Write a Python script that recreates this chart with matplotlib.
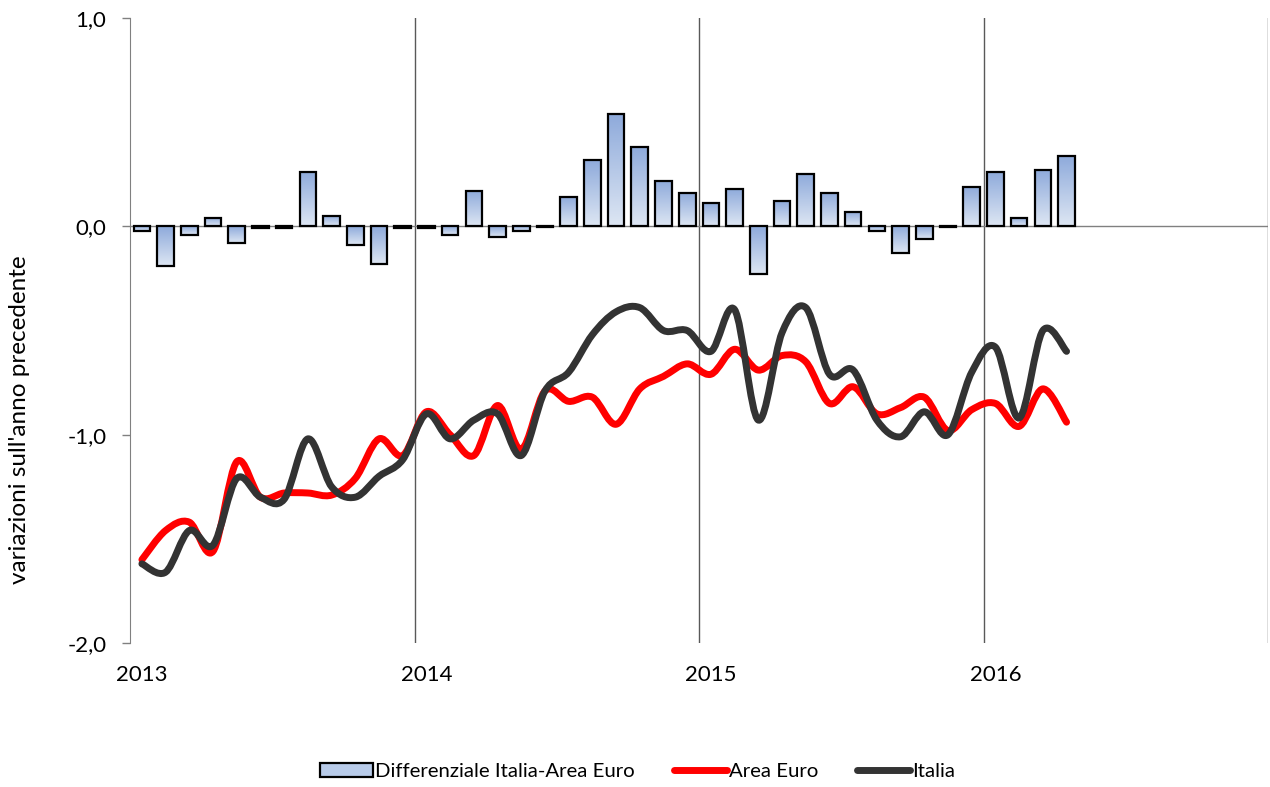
import numpy as np
import matplotlib
matplotlib.use("Agg")
import matplotlib.pyplot as plt
from matplotlib.path import Path
from matplotlib.patches import PathPatch, Patch
from matplotlib.lines import Line2D
from matplotlib.ticker import FuncFormatter

plt.rcParams["font.family"] = ["Lato", "DejaVu Sans"]

# monthly data, Jan 2013 - Apr 2016
years = ["2013", "2014", "2015", "2016"]

differenziale = [
    -0.02, -0.19, -0.04, 0.04, -0.08, -0.01, -0.01, 0.26, 0.05, -0.09, -0.18, -0.01,
    -0.01, -0.04, 0.17, -0.05, -0.02, -0.005, 0.14, 0.32, 0.54, 0.38, 0.22, 0.16,
    0.11, 0.18, -0.23, 0.12, 0.25, 0.16, 0.07, -0.02, -0.13, -0.06, -0.005, 0.19,
    0.26, 0.04, 0.27, 0.34,
]
area_euro = [
    -1.60, -1.46, -1.42, -1.56, -1.13, -1.30, -1.28, -1.28, -1.29, -1.21, -1.02, -1.10,
    -0.89, -1.00, -1.10, -0.86, -1.07, -0.79, -0.84, -0.82, -0.95, -0.78, -0.72, -0.66,
    -0.71, -0.59, -0.69, -0.62, -0.65, -0.85, -0.77, -0.90, -0.87, -0.82, -0.98, -0.88,
    -0.85, -0.96, -0.78, -0.94,
]
italia = [
    -1.62, -1.66, -1.46, -1.53, -1.21, -1.30, -1.31, -1.02, -1.25, -1.30, -1.20, -1.12,
    -0.90, -1.02, -0.93, -0.90, -1.10, -0.79, -0.70, -0.52, -0.41, -0.39, -0.50, -0.50,
    -0.60, -0.40, -0.93, -0.51, -0.39, -0.71, -0.69, -0.93, -1.01, -0.89, -1.00, -0.70,
    -0.58, -0.92, -0.50, -0.60,
]


def smooth_path(xs, ys):
    # excel-like smoothed line as cubic bezier segments
    pts = np.column_stack([xs, ys])
    n = len(pts)
    verts = [pts[0]]
    codes = [Path.MOVETO]
    for i in range(n - 1):
        p0 = pts[max(i - 1, 0)]
        p1 = pts[i]
        p2 = pts[i + 1]
        p3 = pts[min(i + 2, n - 1)]
        verts += [p1 + (p2 - p0) / 6, p2 - (p3 - p1) / 6, p2]
        codes += [Path.CURVE4] * 3
    return Path(verts, codes)


fig = plt.figure(figsize=(12.7, 7.87), dpi=100)
ax = fig.add_axes([0.1024, 0.183, 0.8961, 0.794])

x = np.arange(len(differenziale)) + 0.5
bar_w = 0.7

# gradient bars
grad = np.linspace(0, 1, 64).reshape(-1, 1)
cmap = matplotlib.colors.LinearSegmentedColormap.from_list("g", ["#8eaadb", "#dde6f3"])
for xi, v in zip(x, differenziale):
    lo, hi = min(0, v), max(0, v)
    ax.imshow(grad, extent=(xi - bar_w / 2, xi + bar_w / 2, lo, hi),
              cmap=cmap, aspect="auto", origin="upper", zorder=2)
ax.bar(x, differenziale, width=bar_w, facecolor="none", edgecolor="black",
       linewidth=1.6, zorder=3)

# year gridlines and zero line
for k in range(1, 5):
    ax.plot([12 * k, 12 * k], [-2, 1], color="#595959", lw=1, zorder=1)
ax.axhline(0, color="#808080", lw=1, zorder=1)

ax.add_patch(PathPatch(smooth_path(x, area_euro), fill=False, edgecolor="#ff0000",
                       lw=5, capstyle="round", joinstyle="round", zorder=4))
ax.add_patch(PathPatch(smooth_path(x, italia), fill=False, edgecolor="#333333",
                       lw=5, capstyle="round", joinstyle="round", zorder=5))

ax.set_xlim(0, 48)
ax.set_ylim(-2, 1)
ax.set_yticks([-2, -1, 0, 1])
ax.yaxis.set_major_formatter(FuncFormatter(lambda v, p: f"{v:.1f}".replace(".", ",")))
ax.set_xticks([0.5, 12.5, 24.5, 36.5])
ax.set_xticklabels(years)
ax.tick_params(axis="x", length=0, pad=16, labelsize=16)
ax.tick_params(axis="y", length=6, width=1, color="#808080", pad=11, labelsize=16)
for s in ["top", "right", "bottom"]:
    ax.spines[s].set_visible(False)
ax.spines["left"].set_color("#808080")
ax.set_ylabel("variazioni sull'anno precedente", fontsize=17.5)
ax.yaxis.set_label_coords(-0.088, 0.357)

handles = [
    Patch(facecolor="#b8cbe9", edgecolor="black", linewidth=1.6),
    Line2D([0], [0], color="#ff0000", lw=5, solid_capstyle="round"),
    Line2D([0], [0], color="#333333", lw=5, solid_capstyle="round"),
]
fig.legend(handles, ["Differenziale Italia-Area Euro", "Area Euro", "Italia"],
           loc="center", bbox_to_anchor=(0.502, 0.02), ncol=3, frameon=False,
           fontsize=14.7, handlelength=2.6, handletextpad=0.1, columnspacing=1.9)

fig.savefig("out.png", dpi=100)
